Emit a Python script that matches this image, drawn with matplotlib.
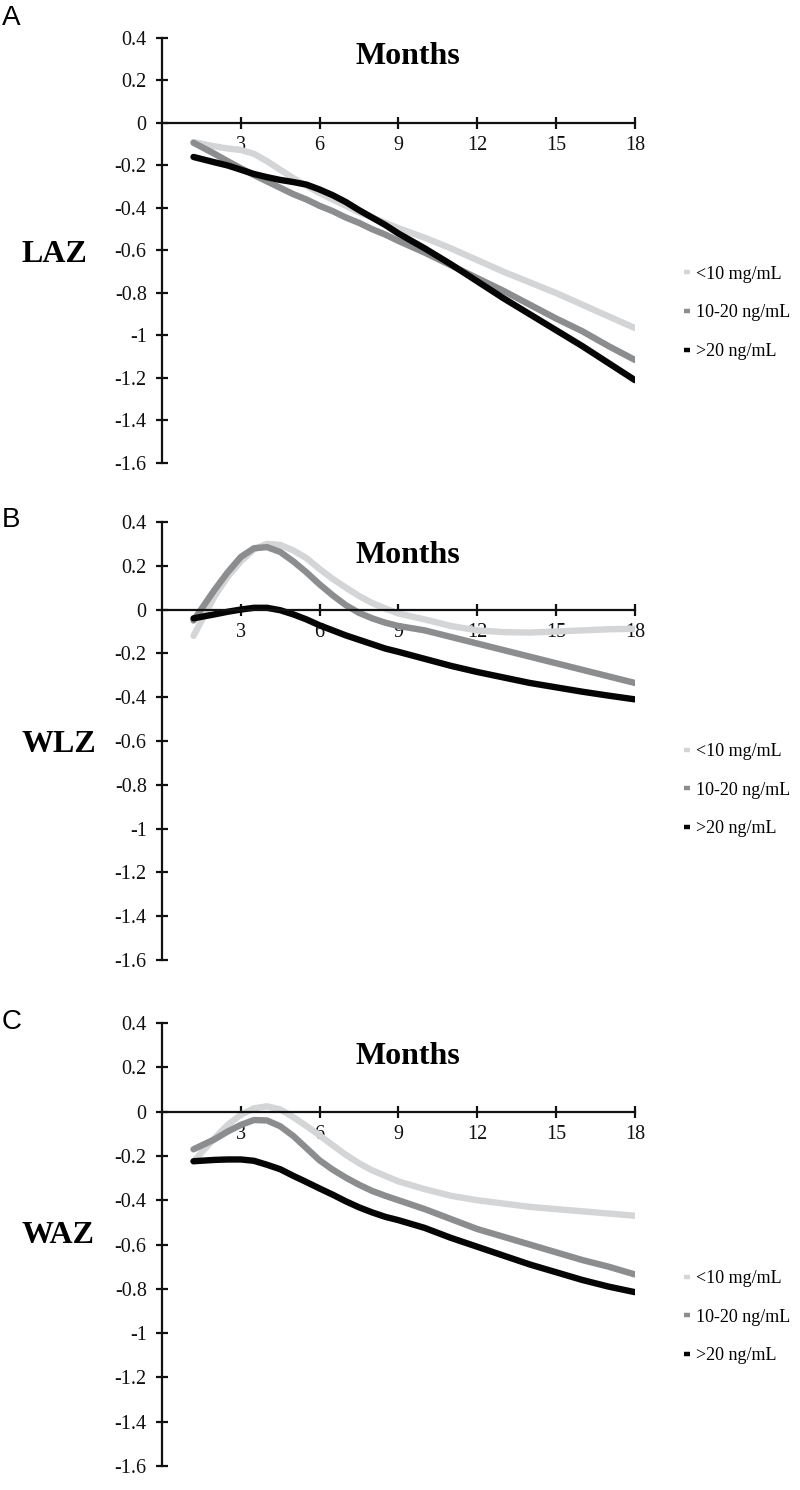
import matplotlib
matplotlib.use('Agg')
import matplotlib.pyplot as plt
from matplotlib.lines import Line2D

# months (x) shared by all three panels
months = [1.2, 2, 2.5, 3, 3.5, 4, 4.5, 5, 5.5, 6, 6.5, 7, 7.5, 8, 8.5, 9,
          10, 11, 12, 13, 14, 15, 16, 17, 18]

# A : LAZ
laz_low = [-0.09, -0.11, -0.12, -0.127, -0.145, -0.18, -0.22, -0.26, -0.295, -0.33, -0.36, -0.39, -0.42,
           -0.445, -0.47, -0.495, -0.54, -0.59, -0.645, -0.70, -0.75, -0.80, -0.855, -0.91, -0.965]
laz_mid = [-0.093, -0.145, -0.18, -0.213, -0.245, -0.275, -0.305, -0.335, -0.36, -0.39, -0.415, -0.445, -0.47,
           -0.50, -0.525, -0.555, -0.61, -0.67, -0.73, -0.79, -0.855, -0.92, -0.98, -1.05, -1.115]
laz_high = [-0.16, -0.185, -0.20, -0.22, -0.24, -0.255, -0.268, -0.278, -0.29, -0.313, -0.34, -0.372, -0.41,
            -0.445, -0.48, -0.52, -0.59, -0.665, -0.745, -0.825, -0.90, -0.975, -1.05, -1.13, -1.21]

# B : WLZ
wlz_low = [-0.12, 0.06, 0.15, 0.22, 0.275, 0.30, 0.295, 0.27, 0.235, 0.185, 0.14, 0.10, 0.062,
           0.03, 0.005, -0.018, -0.045, -0.075, -0.095, -0.103, -0.105, -0.10, -0.095, -0.09, -0.088]
wlz_mid = [-0.05, 0.09, 0.17, 0.24, 0.28, 0.285, 0.263, 0.22, 0.17, 0.115, 0.065, 0.02, -0.015,
           -0.04, -0.06, -0.075, -0.095, -0.125, -0.155, -0.185, -0.215, -0.245, -0.275, -0.305, -0.335]
wlz_high = [-0.04, -0.022, -0.01, 0.0, 0.008, 0.008, -0.003, -0.022, -0.045, -0.072, -0.095, -0.118, -0.138,
            -0.158, -0.178, -0.193, -0.225, -0.257, -0.285, -0.31, -0.335, -0.355, -0.375, -0.393, -0.41]

# C : WAZ
waz_low = [-0.225, -0.12, -0.06, -0.014, 0.015, 0.024, 0.01, -0.025, -0.065, -0.107, -0.152, -0.195, -0.233,
           -0.265, -0.29, -0.315, -0.35, -0.38, -0.40, -0.415, -0.43, -0.44, -0.45, -0.46, -0.47]
waz_mid = [-0.17, -0.125, -0.09, -0.06, -0.038, -0.04, -0.066, -0.11, -0.165, -0.22, -0.262, -0.298, -0.33,
           -0.358, -0.38, -0.40, -0.44, -0.485, -0.53, -0.565, -0.60, -0.635, -0.67, -0.70, -0.735]
waz_high = [-0.224, -0.218, -0.216, -0.216, -0.222, -0.24, -0.26, -0.29, -0.318, -0.347, -0.375, -0.405, -0.432,
            -0.455, -0.475, -0.49, -0.525, -0.57, -0.61, -0.65, -0.69, -0.725, -0.76, -0.79, -0.815]

series_names = ['<10 mg/mL', '10-20 ng/mL', '>20 ng/mL']
colors = ['#d3d5d7', '#8b8d8f', '#050505']
xticks = [3, 6, 9, 12, 15, 18]
yticks = [0.4, 0.2, 0, -0.2, -0.4, -0.6, -0.8, -1, -1.2, -1.4, -1.6]
ytick_labels = ['0.4', '0.2', '0', '-0.2', '-0.4', '-0.6', '-0.8', '-1', '-1.2', '-1.4', '-1.6']

panels = [
    ('A', 'LAZ', [laz_low, laz_mid, laz_high]),
    ('B', 'WLZ', [wlz_low, wlz_mid, wlz_high]),
    ('C', 'WAZ', [waz_low, waz_mid, waz_high]),
]
# axes boxes [left, bottom, width, height] in figure fraction
boxes = [[0.2025, 0.6893, 0.591, 0.2852],
         [0.2025, 0.3557, 0.591, 0.2940],
         [0.2025, 0.0161, 0.591, 0.2973]]
letter_y = [0.988, 0.651, 0.314]
zlabel_y = [0.829, 0.500, 0.171]
months_y = [0.315, 0.248, 0.247]
legend_y = [0.353, 0.388, 0.336]

serif = 'Liberation Serif'

fig = plt.figure(figsize=(8, 14.9), dpi=100)

for i, (letter, zname, ys) in enumerate(panels):
    ax = fig.add_axes(boxes[i])
    for y, c, name in zip(ys, colors, series_names):
        ax.plot(months, y, color=c, lw=4.6, solid_capstyle='round',
                solid_joinstyle='round', label=name)

    ax.set_xlim(0, 18)
    ax.set_ylim(-1.6, 0.4)
    ax.spines['top'].set_visible(False)
    ax.spines['right'].set_visible(False)
    ax.spines['bottom'].set_position(('data', 0))
    ax.spines['left'].set_position(('data', 0))
    for s in ['bottom', 'left']:
        ax.spines[s].set_linewidth(1.6)
        ax.spines[s].set_color('#111111')

    ax.set_xticks(xticks)
    ax.set_xticklabels([str(t) for t in xticks])
    ax.set_yticks(yticks)
    ax.set_yticklabels(ytick_labels)
    ax.tick_params(axis='x', direction='inout', length=8, width=1.6, pad=5.5,
                   labelsize=14.5, colors='#111111')
    ax.tick_params(axis='y', direction='inout', length=8, width=1.6, pad=7,
                   labelsize=14.5, colors='#111111')
    for lab in ax.get_xticklabels() + ax.get_yticklabels():
        lab.set_fontfamily(serif)

    ax.text(0.519, months_y[i], 'Months', transform=ax.get_yaxis_transform(),
            ha='center', va='center', fontsize=23, fontweight='bold', family=serif)

    handles = [Line2D([], [], color=c, lw=3.2, solid_capstyle='butt') for c in colors]
    ax.legend(handles, series_names, loc='center left',
              bbox_to_anchor=(1.105, legend_y[i]), frameon=False,
              handlelength=0.3, handletextpad=0.35, labelspacing=1.2,
              borderpad=0, borderaxespad=0,
              prop={'family': serif, 'size': 13})

    fig.text(0.027, zlabel_y[i], zname, ha='left', va='center',
             fontsize=23, fontweight='bold', family=serif)
    fig.text(0.002, letter_y[i], letter, ha='left', va='center',
             fontsize=20, family='Liberation Sans')

fig.savefig('out.png', dpi=100)
